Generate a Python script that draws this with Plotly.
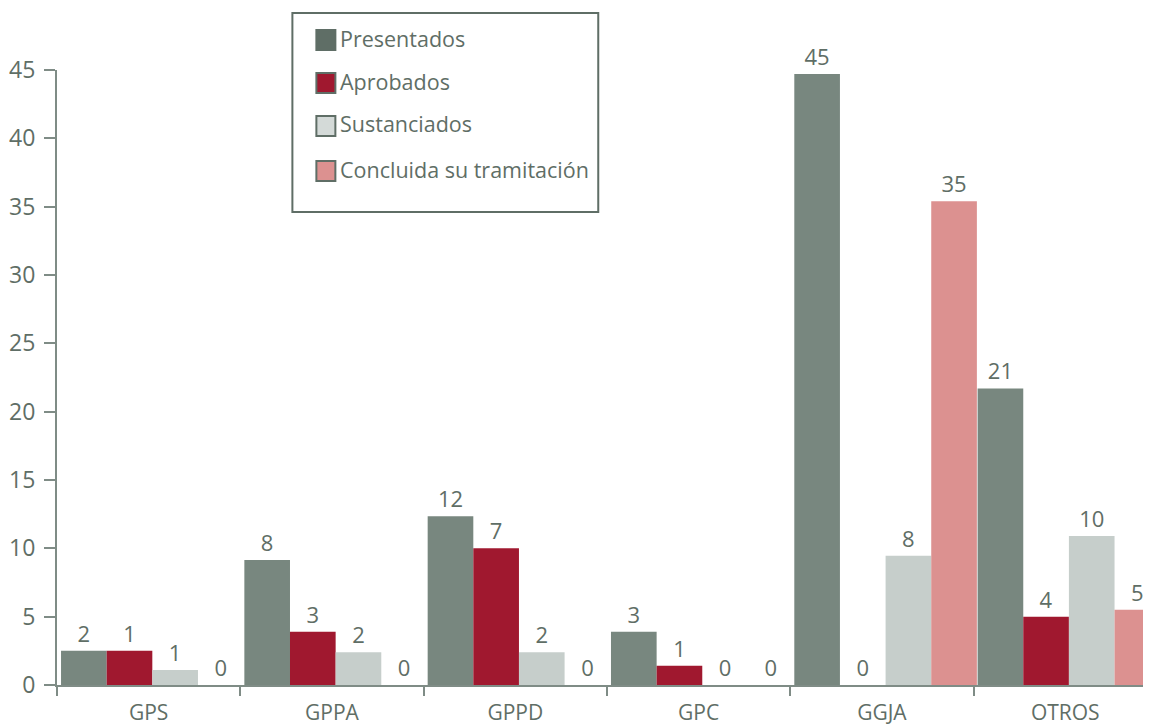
import plotly.graph_objects as go

categories = ["GPS", "GPPA", "GPPD", "GPC", "GGJA", "OTROS"]
series_names = ["Presentados", "Aprobados", "Sustanciados", "Concluida su tramitación"]

presentados_h = [2.5, 9.15, 12.35, 3.9, 44.7, 21.7]
presentados_lbl = ["2", "8", "12", "3", "45", "21"]
aprobados_h = [2.5, 3.9, 10.0, 1.4, 0, 5.0]
aprobados_lbl = ["1", "3", "7", "1", "0", "4"]
sustanciados_h = [1.1, 2.4, 2.4, 0, 9.45, 10.9]
sustanciados_lbl = ["1", "2", "2", "0", "8", "10"]
concluida_h = [0, 0, 0, 0, 35.4, 5.5]
concluida_lbl = ["0", "0", "0", "0", "35", "5"]

y_ticks = [0, 5, 10, 15, 20, 25, 30, 35, 40, 45]

colors = ["#78877f", "#a0182f", "#c6cecb", "#dc9190"]
legend_fill = ["#5f6e66", "#a0182f", "#d4dad8", "#dc9190"]
text_color = "#5f6e66"
axis_color = "#7f8c86"
FONT = "Open Sans"

OFF = 8  # page body margin
W, H = 1151 - OFF, 725 - OFF
L, R, T, B = 56.5 - OFF, 0, 70 - OFF, 40
plot_w = W - L - R
plot_h = H - T - B

def px(x):
    return (x - OFF - L) / plot_w

def py(y):
    return (H - B - (y - OFF)) / plot_h

fig = go.Figure()
bw = 0.249
start = -0.478
heights = [presentados_h, aprobados_h, sustanciados_h, concluida_h]
labels = [presentados_lbl, aprobados_lbl, sustanciados_lbl, concluida_lbl]
for k in range(4):
    fig.add_trace(go.Bar(
        x=categories, y=heights[k], name=series_names[k],
        text=labels[k], textposition="outside", cliponaxis=False,
        textfont=dict(family=FONT, size=22, color=text_color),
        marker=dict(color=colors[k], line=dict(width=0)),
        width=bw, offset=start + k * bw, showlegend=False,
    ))

fig.update_layout(
    width=W, height=H,
    margin=dict(l=L, r=R, t=T, b=B, pad=0),
    plot_bgcolor="white", paper_bgcolor="white",
    font=dict(family=FONT, color=text_color),
    barmode="group",
    xaxis=dict(
        type="category", range=[-0.5, -0.5 + plot_w / 183.4],
        showline=True, linecolor=axis_color, linewidth=2,
        ticks="outside", tickson="boundaries", ticklen=9, tickwidth=2, tickcolor=axis_color,
        tickfont=dict(family=FONT, size=21, color=text_color),
        ticklabelstandoff=8,
        showgrid=False, zeroline=False,
    ),
    yaxis=dict(
        range=[0, 45], tickvals=y_ticks,
        showline=True, linecolor=axis_color, linewidth=2,
        ticks="outside", ticklen=11, tickwidth=2, tickcolor=axis_color,
        tickfont=dict(family=FONT, size=23, color=text_color),
        ticklabelstandoff=4,
        showgrid=False, zeroline=False,
    ),
)

# Legend box drawn manually
shapes = [dict(type="rect", xref="paper", yref="paper",
               x0=px(292), x1=px(598), y0=py(212), y1=py(13),
               line=dict(color=text_color, width=2), fillcolor="white", layer="above")]
annotations = []
centers = [40, 83, 126, 171]
for k, cy in enumerate(centers):
    shapes.append(dict(type="rect", xref="paper", yref="paper",
                       x0=px(316), x1=px(335), y0=py(cy + 10), y1=py(cy - 10),
                       line=dict(color=text_color, width=2), fillcolor=legend_fill[k], layer="above"))
    annotations.append(dict(xref="paper", yref="paper", x=px(338), y=py(cy - 2),
                            xanchor="left", yanchor="middle", showarrow=False,
                            text=series_names[k],
                            font=dict(family=FONT, size=21.5, color=text_color)))
fig.update_layout(shapes=shapes, annotations=annotations)

fig.write_html("out.html")
